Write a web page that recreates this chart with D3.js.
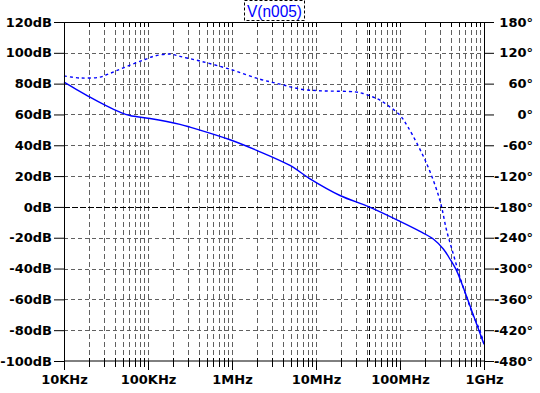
<!DOCTYPE html>
<html>
<head>
<meta charset="utf-8">
<script src="https://cdn.jsdelivr.net/npm/d3@7"></script>
<style>
  body { margin: 0; background: #fff; }
  svg { display: block; }
</style>
</head>
<body>
<script>
// magnitude trace (solid), dB
const magFreq = [1e4, 1.43e4, 2.04e4, 3.08e4, 4.64e4, 6.1e4, 1.056e5, 2.4e5, 3.16e5, 9.47e5, 1.97e6, 4.9e6, 8.49e6, 1.93e7, 4.28e7, 1e8, 1.73e8, 2.49e8, 3.28e8, 3.93e8, 4.73e8, 5.67e8, 6.81e8, 8.18e8, 1e9]
const magDb   = [81, 76, 71.2, 66, 61.5, 59.3, 57.4, 53.6, 51.8, 43.6, 36.7, 26.9, 18.2, 7.4, 0, -9.4, -15.9, -20.8, -27.3, -33.8, -41.5, -52.3, -64.2, -76.2, -89.2]

// phase trace (dashed), degrees
const phFreq = [1e4, 1.55e4, 2.68e4, 3.08e4, 4.05e4, 6.1e4, 9.2e4, 1.21e5, 1.83e5, 2.4e5, 4.16e5, 9.47e5, 2.15e6, 3.73e6, 6.45e6, 1e7, 1.47e7, 2.91e7, 3.63e7, 4.77e7, 5.78e7, 7.6e7, 1e8, 1.245e8, 2.08e8, 2.99e8, 3.59e8, 4.31e8, 5.18e8, 6.22e8, 7.47e8, 8.96e8, 1e9]
const phDeg  = [75, 71, 72.6, 76, 84, 96, 107, 114, 117.5, 113, 104, 88, 68.7, 59, 49.5, 46.5, 45.5, 44, 40.8, 34, 27.7, 14.6, -1.6, -24.5, -96, -167.6, -226, -271.7, -317, -356, -392, -421, -447]

const dbTicks = [120, 100, 80, 60, 40, 20, 0, -20, -40, -60, -80, -100]
const phTicks = [180, 120, 60, 0, -60, -120, -180, -240, -300, -360, -420, -480]
const decades = [1e4, 1e5, 1e6, 1e7, 1e8, 1e9]
const decadeLabels = ["10KHz", "100KHz", "1MHz", "10MHz", "100MHz", "1GHz"]
const traceName = "V(n005)"
const cursorFreq = 4.28e7

let margin = { top: 22, right: 56, bottom: 32, left: 64 },
width = 540 - margin.left - margin.right,
height = 393 - margin.top - margin.bottom

let svg = d3.select("body").append("svg")
    .attr("width", 540)
    .attr("height", 393)
    .style("font-family", "'DejaVu Sans', sans-serif")
let g = svg.append("g")
    .attr("transform", "translate(" + margin.left + "," + margin.top + ")")

let x = d3.scaleLog().domain([1e4, 1e9]).range([0, width])
let y = d3.scaleLinear().domain([-100, 120]).range([height, 0])
let yPh = d3.scaleLinear().domain([-480, 180]).range([height, 0])

// minor tick positions 2..9 per decade
let minors = []
decades.slice(0, -1).forEach(function (d) {
    for (let k = 2; k <= 9; k++) minors.push(d * k)
})
let allV = decades.concat(minors)

// grid
g.selectAll(".vgrid").data(allV.filter(function (d) { return d > 1e4 && d < 1e9 }))
    .enter().append("line")
    .attr("x1", function (d) { return Math.round(x(d)) + 0.5 })
    .attr("x2", function (d) { return Math.round(x(d)) + 0.5 })
    .attr("y1", 0).attr("y2", height)
    .attr("stroke", "#606060").attr("stroke-dasharray", "5,3")

g.selectAll(".hgrid").data(dbTicks.filter(function (d) { return d < 120 && d > -100 && d !== 0 }))
    .enter().append("line")
    .attr("x1", 0).attr("x2", width)
    .attr("y1", function (d) { return Math.round(y(d)) + 0.5 })
    .attr("y2", function (d) { return Math.round(y(d)) + 0.5 })
    .attr("stroke", "#606060").attr("stroke-dasharray", "4,3")

// cursor lines
g.append("line")
    .attr("x1", 0).attr("x2", width)
    .attr("y1", Math.round(y(0)) + 0.5).attr("y2", Math.round(y(0)) + 0.5)
    .attr("stroke", "#000").attr("stroke-dasharray", "6,2")
g.append("line")
    .attr("x1", Math.round(x(cursorFreq)) + 0.5).attr("x2", Math.round(x(cursorFreq)) + 0.5)
    .attr("y1", 0).attr("y2", height)
    .attr("stroke", "#000").attr("stroke-dasharray", "5,3")

// traces
let line = d3.line().curve(d3.curveCatmullRom.alpha(0.5))
let magPts = magFreq.map(function (f, i) { return [x(f), y(magDb[i])] })
let phPts = phFreq.map(function (f, i) { return [x(f), yPh(phDeg[i])] })

g.append("path").attr("d", line(magPts))
    .attr("fill", "none").attr("stroke", "#0000ff").attr("stroke-width", 1.4)
g.append("path").attr("d", line(phPts))
    .attr("fill", "none").attr("stroke", "#0000ff").attr("stroke-width", 1.4)
    .attr("stroke-dasharray", "3,3")

// frame
g.append("rect").attr("x", 0.5).attr("y", 0.5)
    .attr("width", width).attr("height", height - 0.5)
    .attr("fill", "none").attr("stroke", "#000")

// axes
function styleAxis(sel) {
    sel.select(".domain").remove()
    sel.selectAll("line").attr("stroke", "#000")
    sel.selectAll("text").attr("fill", "#000")
        .style("font-size", "13px").style("font-weight", "bold")
        .style("font-family", "'DejaVu Sans', sans-serif")
}

g.append("g")
    .call(d3.axisLeft(y).tickValues(dbTicks).tickSize(10).tickPadding(2)
        .tickFormat(function (d) { return d + "dB" }))
    .call(styleAxis)

let right = g.append("g")
    .attr("transform", "translate(" + width + ",0)")
    .call(d3.axisRight(yPh).tickValues(phTicks).tickSize(10)
        .tickFormat(function (d) { return d + "°" }))
    .call(styleAxis)
right.selectAll("text").attr("x", 49).attr("text-anchor", "end")

g.append("g")
    .attr("transform", "translate(0," + height + ")")
    .call(d3.axisBottom(x).tickValues(decades).tickSize(9).tickPadding(5)
        .tickFormat(function (d, i) { return decadeLabels[i] }))
    .call(styleAxis)

// minor ticks on bottom and top edges
g.selectAll(".btick").data(minors)
    .enter().append("line")
    .attr("x1", function (d) { return Math.round(x(d)) + 0.5 })
    .attr("x2", function (d) { return Math.round(x(d)) + 0.5 })
    .attr("y1", height - 3).attr("y2", height + 6)
    .attr("stroke", "#000")
g.selectAll(".ttick").data(allV)
    .enter().append("line")
    .attr("x1", function (d) { return Math.round(x(d)) + 0.5 })
    .attr("x2", function (d) { return Math.round(x(d)) + 0.5 })
    .attr("y1", 0).attr("y2", 5)
    .attr("stroke", "#000")

// trace name
let title = svg.append("g")
title.append("rect")
    .attr("x", 244.5).attr("y", 0.5).attr("width", 60).attr("height", 20)
    .attr("fill", "#fff").attr("stroke", "#000").attr("stroke-dasharray", "3,2")
title.append("text")
    .attr("x", 247).attr("y", 17)
    .attr("fill", "#0000ff")
    .attr("textLength", 55).attr("lengthAdjust", "spacingAndGlyphs")
    .style("font-family", "'Liberation Sans', Arial, sans-serif")
    .style("font-size", "16px")
    .text(traceName)
</script>
</body>
</html>
